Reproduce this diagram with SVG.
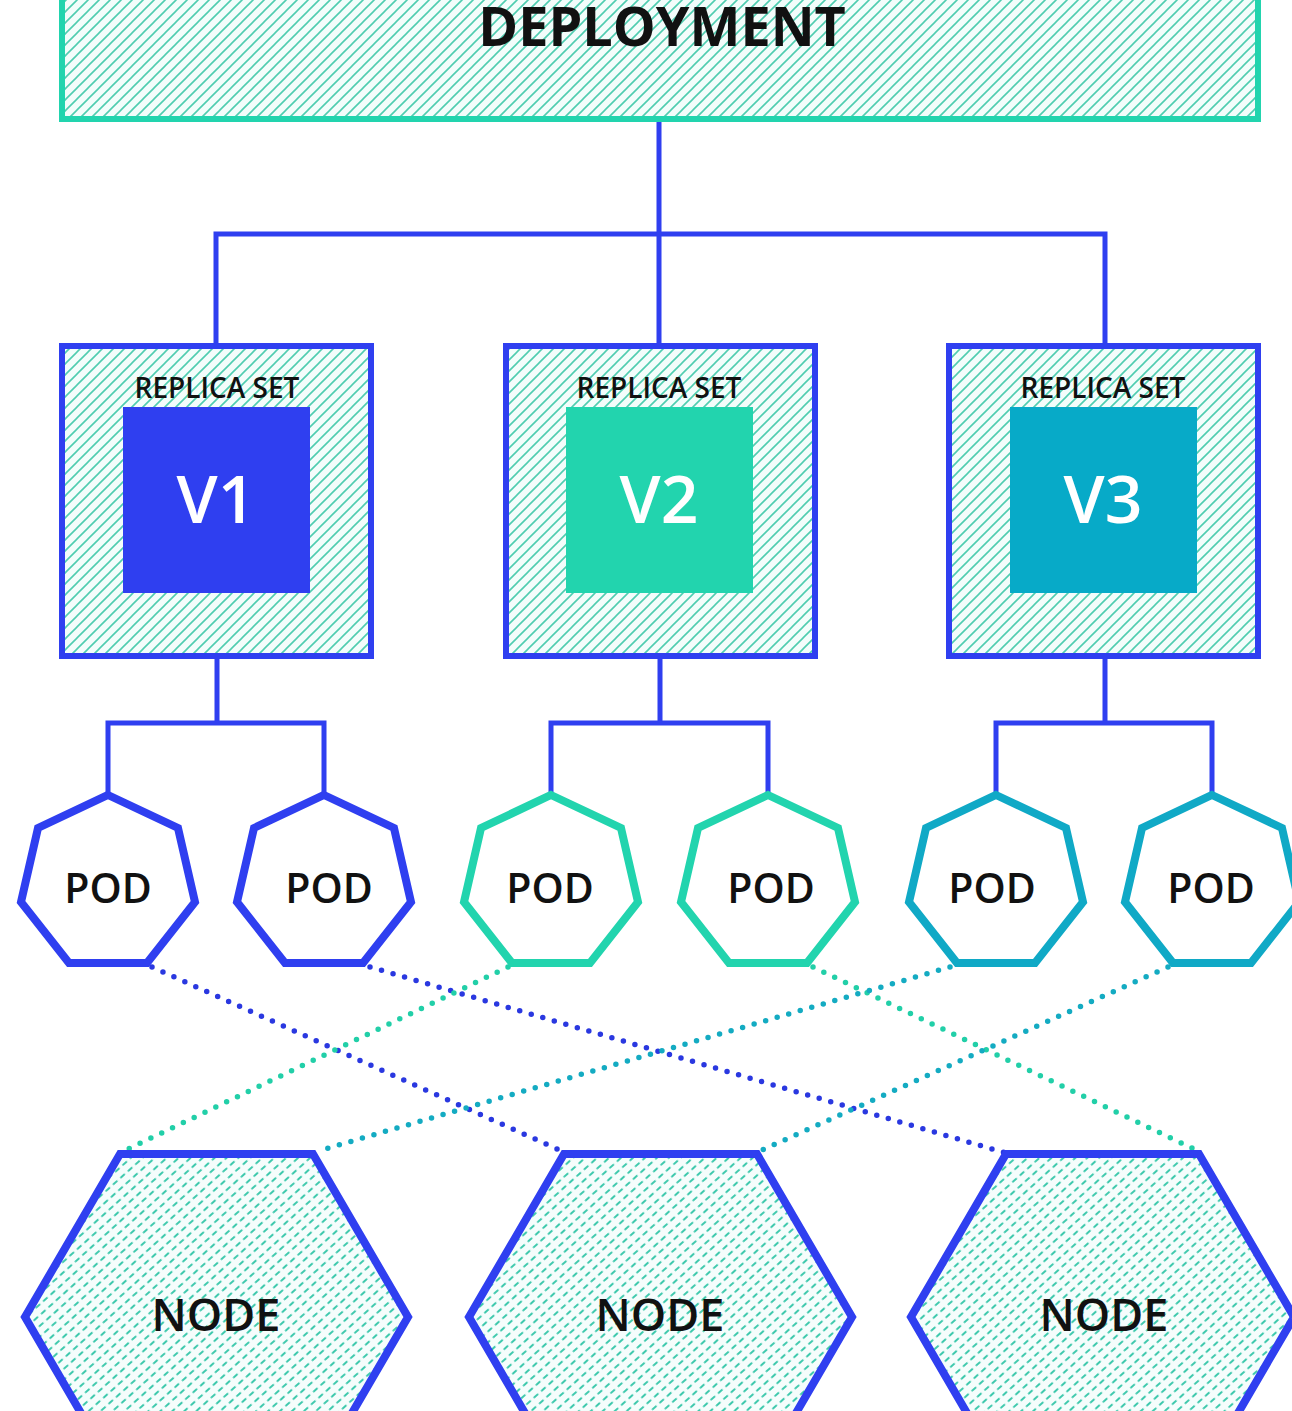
<svg xmlns="http://www.w3.org/2000/svg" width="1292" height="1411" viewBox="0 0 1292 1411">
<style>
.bg{fill:#ffffff}
.hatchbox{fill:url(#hatch)}
.blueS{stroke:#2f3ff0}
.greenS{stroke:#22d4ae}
.tealS{stroke:#10a9c6}
.wire{fill:none;stroke:#2f3ff0;stroke-width:5}
.dot{fill:none;stroke-width:5.5;stroke-linecap:round;stroke-dasharray:0 12}
.pod{fill:#ffffff;stroke-width:8;stroke-linejoin:miter}
.node{fill:url(#dash);stroke:#2f3ff0;stroke-width:8}
.lbl{font-family:"Open Sans","Liberation Sans",sans-serif;fill:#111111;text-anchor:middle}
.ver{font-family:"Open Sans","Liberation Sans",sans-serif;fill:#ffffff;text-anchor:middle;font-weight:600;font-size:66px}
</style>
<defs>
<pattern id="hatch" width="11" height="11" patternUnits="userSpaceOnUse">
<rect width="11" height="11" fill="#f3fdfb"/>
<path d="M-2,2 L2,-2 M0,11 L11,0 M9,13 L13,9" stroke="#4fcdb0" stroke-width="1.6"/>
</pattern>
<pattern id="dash" width="10" height="8" patternUnits="userSpaceOnUse" patternTransform="rotate(-42)">
<rect x="-1" y="-1" width="12" height="10" fill="#f5fdfc"/>
<line x1="2" y1="4" x2="6.5" y2="4" stroke="#3fc9ad" stroke-width="1.8" stroke-linecap="round"/>
</pattern>
</defs>
<rect class="bg" x="0" y="0" width="1292" height="1411"/>

<g id="connectors">
<path class="wire" d="M659,119 V346 M216,346 V234 H1105 V346"/>
<path class="wire" d="M217,656 V723 M108,795 V723 H324 V795"/>
<path class="wire" d="M660,656 V723 M551,795 V723 H768 V795"/>
<path class="wire" d="M1105,656 V723 M996,795 V723 H1212 V795"/>
<line class="dot" stroke="#2a38e0" x1="152" y1="967" x2="566" y2="1153"/>
<line class="dot" stroke="#2a38e0" x1="370" y1="967" x2="1006" y2="1153"/>
<line class="dot" stroke="#22cfa8" x1="508" y1="967" x2="124" y2="1151"/>
<line class="dot" stroke="#22cfa8" x1="813" y1="967" x2="1198" y2="1151"/>
<line class="dot" stroke="#14abc2" x1="950" y1="967" x2="318" y2="1151"/>
<line class="dot" stroke="#14abc2" x1="1168" y1="967" x2="760" y2="1151"/>
</g>

<g id="deployment">
<rect class="hatchbox" x="62" y="-20" width="1196" height="139" stroke="#22d4ae" stroke-width="6"/>
<text class="lbl" x="662" y="46" font-size="54" font-weight="700">DEPLOYMENT</text>
</g>

<g id="rs1">
<rect class="hatchbox blueS" x="62" y="346" width="309" height="310" stroke-width="6"/>
<text class="lbl" x="217" y="398" font-size="28" font-weight="600">REPLICA SET</text>
<rect x="123" y="407" width="187" height="186" fill="#2f3ff0"/>
<text class="ver" x="216" y="523">V1</text>
</g>
<g id="rs2">
<rect class="hatchbox blueS" x="506" y="346" width="309" height="310" stroke-width="6"/>
<text class="lbl" x="659" y="398" font-size="28" font-weight="600">REPLICA SET</text>
<rect x="566" y="407" width="187" height="186" fill="#22d4ae"/>
<text class="ver" x="659" y="523">V2</text>
</g>
<g id="rs3">
<rect class="hatchbox blueS" x="949" y="346" width="309" height="310" stroke-width="6"/>
<text class="lbl" x="1103" y="398" font-size="28" font-weight="600">REPLICA SET</text>
<rect x="1010" y="407" width="187" height="186" fill="#07aac8"/>
<text class="ver" x="1103" y="523">V3</text>
</g>

<g id="pod1"><polygon class="pod blueS" points="108,795 178,828 195,902 147,963 69,963 21,902 38,828"/><text class="lbl" x="108" y="903" font-size="41" font-weight="600">POD</text></g>
<g id="pod2"><polygon class="pod blueS" points="324,795 394,828 411,902 363,963 285,963 237,902 254,828"/><text class="lbl" x="329" y="903" font-size="41" font-weight="600">POD</text></g>
<g id="pod3"><polygon class="pod greenS" points="551,795 621,828 638,902 590,963 512,963 464,902 481,828"/><text class="lbl" x="550" y="903" font-size="41" font-weight="600">POD</text></g>
<g id="pod4"><polygon class="pod greenS" points="768,795 838,828 855,902 807,963 729,963 681,902 698,828"/><text class="lbl" x="771" y="903" font-size="41" font-weight="600">POD</text></g>
<g id="pod5"><polygon class="pod tealS" points="996,795 1066,828 1083,902 1035,963 957,963 909,902 926,828"/><text class="lbl" x="992" y="903" font-size="41" font-weight="600">POD</text></g>
<g id="pod6"><polygon class="pod tealS" points="1212,795 1282,828 1299,902 1251,963 1173,963 1125,902 1142,828"/><text class="lbl" x="1211" y="903" font-size="41" font-weight="600">POD</text></g>

<g id="node1"><polygon class="node" points="120,1154 313,1154 408,1317 313,1480 120,1480 25,1317"/><text class="lbl" x="216" y="1331" font-size="45" font-weight="600">NODE</text></g>
<g id="node2"><polygon class="node" points="564,1154 757,1154 852,1317 757,1480 564,1480 469,1317"/><text class="lbl" x="660" y="1331" font-size="45" font-weight="600">NODE</text></g>
<g id="node3"><polygon class="node" points="1006,1154 1199,1154 1294,1317 1199,1480 1006,1480 911,1317"/><text class="lbl" x="1104" y="1331" font-size="45" font-weight="600">NODE</text></g>
</svg>
